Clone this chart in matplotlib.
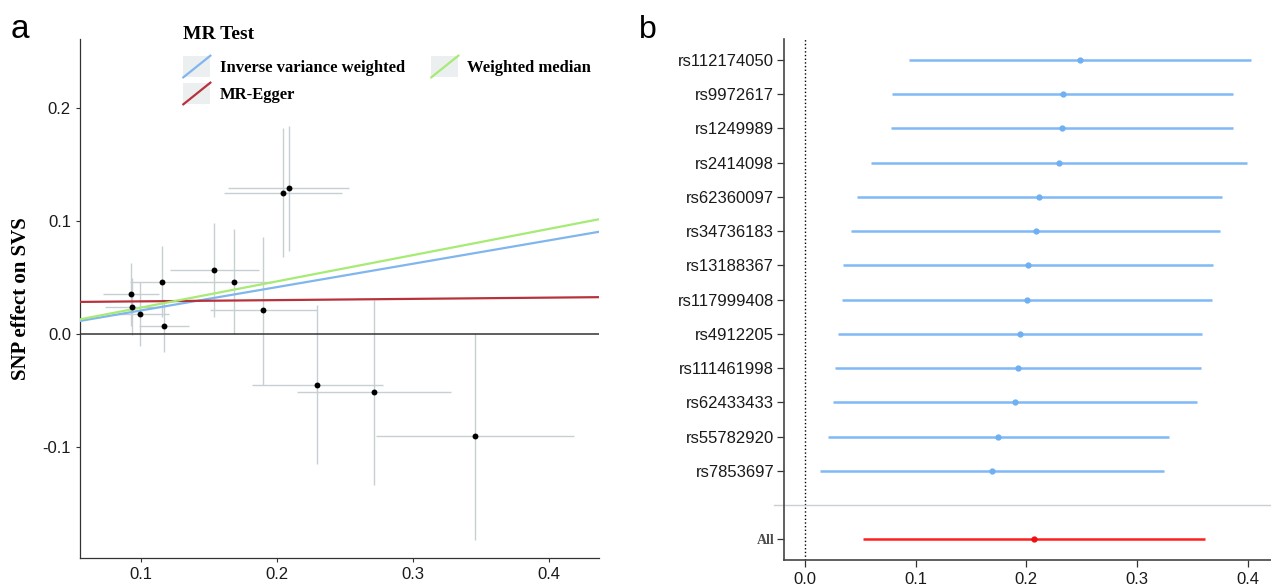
import matplotlib
matplotlib.use("Agg")
import matplotlib.pyplot as plt
from matplotlib.legend_handler import HandlerBase
from matplotlib.patches import Rectangle
from matplotlib.lines import Line2D

plt.rcParams['font.family'] = ['Liberation Sans', 'DejaVu Sans']

# ---- panel a: SNP effects on exposure (x) vs SVS (y) ----
bx = [0.0927, 0.0932, 0.0993, 0.1153, 0.1167, 0.1536, 0.1685, 0.1897, 0.2042, 0.2086, 0.2296, 0.2712, 0.3460]
by = [0.0349, 0.0240, 0.0178, 0.0459, 0.0071, 0.0569, 0.0459, 0.0207, 0.1250, 0.1289, -0.0451, -0.0513, -0.0907]
bx_lo = [0.0723, 0.0735, 0.0785, 0.0920, 0.0985, 0.1210, 0.1390, 0.1506, 0.1610, 0.1640, 0.1814, 0.2147, 0.2731]
bx_hi = [0.1132, 0.1130, 0.1205, 0.1400, 0.1355, 0.1870, 0.1970, 0.2293, 0.2477, 0.2533, 0.2778, 0.3280, 0.4190]
by_lo = [0.0065, -0.0010, -0.0104, 0.0150, -0.0165, 0.0148, 0.0000, -0.0450, 0.0676, 0.0734, -0.1150, -0.1340, -0.1822]
by_hi = [0.0630, 0.0490, 0.0460, 0.0780, 0.0305, 0.0980, 0.0924, 0.0859, 0.1820, 0.1837, 0.0252, 0.0296, 0.0005]

methods = ['Inverse variance weighted', 'MR-Egger', 'Weighted median']
intercepts = [0.0, 0.0276, 0.0]
slopes = [0.2066, 0.011, 0.232]
method_colors = ['#80b6ee', '#b8323c', '#a6eb74']

# ---- panel b: leave-one-out estimates ----
snps = ['rs112174050', 'rs9972617', 'rs1249989', 'rs2414098', 'rs62360097', 'rs34736183',
        'rs13188367', 'rs117999408', 'rs4912205', 'rs111461998', 'rs62433433', 'rs55782920', 'rs7853697']
est = [0.2485, 0.2330, 0.2324, 0.2295, 0.2113, 0.2084, 0.2015, 0.2007, 0.1938, 0.1923, 0.1894, 0.1741, 0.1687]
lo = [0.0936, 0.0790, 0.0776, 0.0594, 0.0466, 0.0412, 0.0346, 0.0332, 0.0299, 0.0273, 0.0255, 0.0204, 0.0138]
hi = [0.4033, 0.3870, 0.3870, 0.3996, 0.3763, 0.3752, 0.3690, 0.3680, 0.3588, 0.3580, 0.3540, 0.3286, 0.3242]
all_est, all_lo, all_hi = 0.2066, 0.0521, 0.3614

serif_bold = {'family': 'Liberation Serif', 'weight': 'bold'}


class DiagHandler(HandlerBase):
    # ggplot style key: grey square with a diagonal line
    def create_artists(self, legend, orig_handle, xdescent, ydescent, width, height, fontsize, trans):
        bg = Rectangle((-xdescent, -ydescent), width, height, facecolor='#eceff0',
                       edgecolor='none', transform=trans)
        ln = Line2D([-xdescent, -xdescent + width], [-ydescent, -ydescent + height],
                    color=orig_handle.get_color(), lw=1.6, transform=trans)
        return [bg, ln]


fig = plt.figure(figsize=(12.71, 5.86), dpi=100)

ax = fig.add_axes([0.0629, 0.0478, 0.4083, 0.8857])
ax.hlines(by, bx_lo, bx_hi, color='#c6d0d3', lw=1.0, zorder=1)
ax.vlines(bx, by_lo, by_hi, color='#c6d0d3', lw=1.0, zorder=1)
ax.axhline(0, color='#333333', lw=1.1, zorder=2)
handles = []
for a, b, c in zip(intercepts, slopes, method_colors):
    ax.axline((0, a), slope=b, color=c, lw=1.6, zorder=3)
    handles.append(Line2D([], [], color=c))
ax.scatter(bx, by, s=18, color='black', zorder=4, linewidths=0)

ax.set_xlim(0.055, 0.437)
ax.set_ylim(-0.1985, 0.261)
ax.set_xticks([0.1, 0.2, 0.3, 0.4])
ax.set_xticklabels(['0.1', '0.2', '0.3', '0.4'])
ax.set_yticks([-0.1, 0.0, 0.1, 0.2])
ax.set_yticklabels(['-0.1', '0.0', '0.1', '0.2'])
ax.tick_params(labelsize=12, length=3, width=0.8, color='#333333', labelcolor='#1a1a1a')
for s in ['top', 'right']:
    ax.spines[s].set_visible(False)
for s in ['left', 'bottom']:
    ax.spines[s].set_color('#333333')
    ax.spines[s].set_linewidth(0.9)
ax.set_ylabel('SNP effect on SVS', fontsize=15, **serif_bold)
ax.yaxis.set_label_coords(-0.094, 0.5)

leg = ax.legend([handles[0], handles[1], handles[2]], methods, ncol=2,
                loc='upper left', bbox_to_anchor=(0.1377, 0.9695), bbox_transform=fig.transFigure,
                frameon=False, borderpad=0, handlelength=1.62, handleheight=1.62,
                labelspacing=0.32, handletextpad=0.55, columnspacing=1.6,
                title='MR Test', alignment='left',
                prop={'family': 'Liberation Serif', 'weight': 'bold', 'size': 12},
                title_fontproperties={'family': 'Liberation Serif', 'weight': 'bold', 'size': 14},
                handler_map={Line2D: DiagHandler()})
leg._legend_box.sep = 9  # more room between title and keys

# ---- panel b ----
bx2 = fig.add_axes([0.6168, 0.0444, 0.3832, 0.889])
rows = list(range(len(snps)))
all_row = len(snps) + 1
bx2.hlines(rows, lo, hi, color='#80b9f5', lw=1.8, zorder=2)
bx2.plot(est, rows, 'o', color='#6fb0f2', ms=3.5, zorder=3)
bx2.hlines([all_row], [all_lo], [all_hi], color='#ff1f1f', lw=1.8, zorder=2)
bx2.plot([all_est], [all_row], 'o', color='#ee1111', ms=3.5, zorder=3)
bx2.axvline(0, color='black', lw=1.0, ls=':', zorder=1)
bx2.axhline(len(snps), xmin=-0.021, xmax=1, color='#c9cfd2', lw=1.0, clip_on=False, zorder=1)

bx2.set_xlim(-0.019, 0.421)
bx2.set_ylim(14.6, -0.61)
bx2.set_xticks([0.0, 0.1, 0.2, 0.3, 0.4])
bx2.set_xticklabels(['0.0', '0.1', '0.2', '0.3', '0.4'])
bx2.set_yticks(rows + [all_row])
bx2.set_yticklabels(snps + ['All'])
bx2.tick_params(labelsize=12, length=5, width=0.9, color='#333333', labelcolor='#1a1a1a')
bx2.tick_params(axis='y', pad=2)
lab_all = bx2.get_yticklabels()[-1]
lab_all.set_fontfamily('Liberation Serif')
lab_all.set_fontweight('bold')
lab_all.set_fontsize(10)
lab_all.set_color('#4d4d4d')
for s in ['top', 'right']:
    bx2.spines[s].set_visible(False)
for s in ['left', 'bottom']:
    bx2.spines[s].set_color('#444444')
    bx2.spines[s].set_linewidth(1.2)

fig.text(0.008, 0.935, 'a', fontsize=24)
fig.text(0.503, 0.935, 'b', fontsize=23)

fig.savefig('out.png', dpi=100)
